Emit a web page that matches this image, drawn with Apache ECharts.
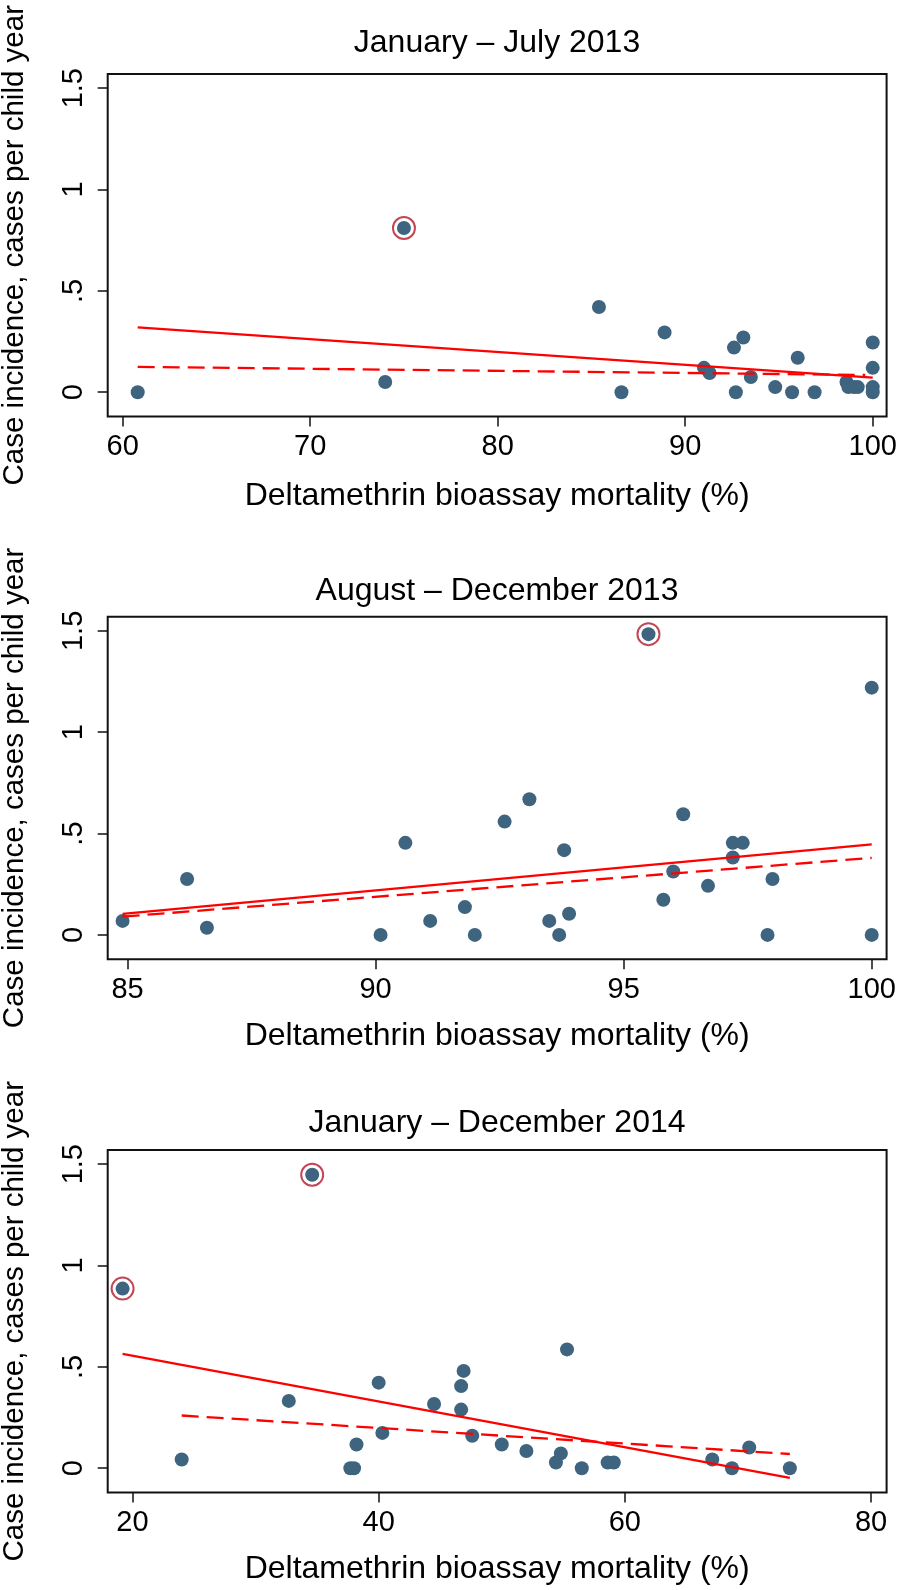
<!DOCTYPE html>
<html>
<head>
<meta charset="utf-8">
<script src="https://cdn.jsdelivr.net/npm/echarts@6/dist/echarts.min.js"></script>
<style>
  html, body { margin: 0; padding: 0; background: #fff; }
  #chart { width: 898px; height: 1590px; }
</style>
</head>
<body>
<div id="chart"></div>
<script>
// ---------- data ----------
const titles = ['January – July 2013', 'August – December 2013', 'January – December 2014'];
const xAxisTitle = 'Deltamethrin bioassay mortality (%)';
const yAxisTitle = 'Case incidence, cases per child year';

const yTickValues = [0, 0.5, 1, 1.5];
const yTickLabels = ['0', '.5', '1', '1.5'];

// Panel 1: January – July 2013
const p1XTicks = [60, 70, 80, 90, 100];
const p1X = [60.8, 74.0, 75.0, 85.4, 86.6, 88.9, 91.0, 91.3, 92.6, 92.7, 93.1, 93.5, 94.8, 95.7, 96.0, 96.9, 98.6, 98.7, 99.0, 99.2, 100, 100, 100, 100];
const p1Y = [0, 0.05, 0.81, 0.42, 0, 0.295, 0.12, 0.095, 0.22, 0, 0.27, 0.075, 0.025, 0, 0.17, 0, 0.05, 0.025, 0.025, 0.025, 0.245, 0.12, 0.025, 0];
const p1OutX = [75.0];
const p1OutY = [0.81];
const p1FitAllX = [60.8, 100];
const p1FitAllY = [0.32, 0.072];
const p1FitExclX = [60.8, 99.6];
const p1FitExclY = [0.125, 0.085];

// Panel 2: August – December 2013
const p2XTicks = [85, 90, 95, 100];
const p2X = [84.9, 86.2, 86.6, 90.1, 90.6, 91.1, 91.8, 92.0, 92.6, 93.1, 93.5, 93.7, 93.8, 93.9, 95.5, 95.8, 96.0, 96.2, 96.7, 97.2, 97.2, 97.4, 97.9, 98.0, 100, 100];
const p2Y = [0.069, 0.276, 0.035, 0, 0.454, 0.069, 0.137, 0, 0.559, 0.669, 0.069, 0, 0.418, 0.104, 1.484, 0.173, 0.3125, 0.595, 0.242, 0.454, 0.382, 0.454, 0, 0.276, 1.22, 0];
const p2OutX = [95.5];
const p2OutY = [1.484];
const p2FitAllX = [84.9, 100];
const p2FitAllY = [0.104, 0.447];
const p2FitExclX = [84.9, 100];
const p2FitExclY = [0.09, 0.38];

// Panel 3: January – December 2014
const p3XTicks = [20, 40, 60, 80];
const p3X = [19.2, 24.0, 32.7, 34.6, 37.7, 38.0, 38.2, 40.0, 40.3, 44.5, 46.7, 46.7, 46.9, 47.6, 50.0, 52.0, 54.4, 54.8, 55.3, 56.5, 58.6, 59.1, 67.1, 68.7, 70.1, 73.4];
const p3Y = [0.886, 0.043, 0.332, 1.448, 0, 0, 0.117, 0.422, 0.174, 0.317, 0.405, 0.289, 0.48, 0.16, 0.117, 0.085, 0.028, 0.073, 0.586, 0, 0.028, 0.028, 0.043, 0, 0.102, 0];
const p3OutX = [19.2, 34.6];
const p3OutY = [0.886, 1.448];
const p3FitAllX = [19.2, 73.4];
const p3FitAllY = [0.564, -0.048];
const p3FitExclX = [24.0, 73.4];
const p3FitExclY = [0.26, 0.07];

// ---------- layout / style ----------
const FONT = "'Liberation Sans', Arial, Helvetica, sans-serif";
const DOT = '#3f6480';
const RING = '#b3182b';
const FIT = '#ff0000';

const panels = [
  { xTicks: p1XTicks, xMin: 59.2, xMax: 100.74, X: p1X, Y: p1Y, oX: p1OutX, oY: p1OutY,
    fAX: p1FitAllX, fAY: p1FitAllY, fEX: p1FitExclX, fEY: p1FitExclY,
    top: 74, titleTop: 27, nameGap: 64 },
  { xTicks: p2XTicks, xMin: 84.6, xMax: 100.3, X: p2X, Y: p2Y, oX: p2OutX, oY: p2OutY,
    fAX: p2FitAllX, fAY: p2FitAllY, fEX: p2FitExclX, fEY: p2FitExclY,
    top: 616.7, titleTop: 575, nameGap: 61 },
  { xTicks: p3XTicks, xMin: 17.99, xMax: 81.26, X: p3X, Y: p3Y, oX: p3OutX, oY: p3OutY,
    fAX: p3FitAllX, fAY: p3FitAllY, fEX: p3FitExclX, fEY: p3FitExclY,
    top: 1150, titleTop: 1107, nameGap: 61 }
];

const zip = (a, b) => a.map((v, i) => [v, b[i]]);

const option = {
  backgroundColor: '#fff',
  animation: false,
  title: [],
  grid: [],
  xAxis: [],
  yAxis: [],
  series: []
};

panels.forEach((p, i) => {
  option.title.push({
    text: titles[i], left: 497, top: p.titleTop, textAlign: 'center', padding: 0,
    textStyle: { fontFamily: FONT, fontSize: 32, fontWeight: 'normal', color: '#000', lineHeight: 32 }
  });
  option.grid.push({
    left: 107.7, right: 11.4, top: p.top, height: 342.5,
    containLabel: false, outerBoundsMode: 'none',
    show: true, borderColor: '#111', borderWidth: 2, backgroundColor: '#fff'
  });
  option.xAxis.push({
    type: 'value', gridIndex: i, min: p.xMin, max: p.xMax, position: 'bottom',
    name: xAxisTitle, nameLocation: 'middle', nameGap: p.nameGap,
    nameTextStyle: { fontFamily: FONT, fontSize: 32, color: '#000', lineHeight: 32 },
    axisLine: { show: false, onZero: false },
    splitLine: { show: false },
    axisTick: { show: true, inside: false, length: 10, customValues: p.xTicks, lineStyle: { color: '#111', width: 1.5 } },
    axisLabel: { show: true, margin: 16, customValues: p.xTicks, fontFamily: FONT, fontSize: 29, color: '#000',
      formatter: v => String(v) }
  });
  option.yAxis.push({
    type: 'value', gridIndex: i, min: -0.12, max: 1.57, position: 'left',
    name: yAxisTitle, nameLocation: 'middle', nameGap: 78, nameRotate: 90,
    nameTextStyle: { fontFamily: FONT, fontSize: 29.5, color: '#000', lineHeight: 30 },
    axisLine: { show: false, onZero: false },
    splitLine: { show: false },
    axisTick: { show: true, inside: false, length: 10, customValues: yTickValues, lineStyle: { color: '#111', width: 1.5 } },
    axisLabel: { show: true, rotate: 90, margin: 19, customValues: yTickValues, fontFamily: FONT, fontSize: 29, color: '#000',
      formatter: v => { const k = yTickValues.findIndex(t => Math.abs(t - v) < 1e-9); return k >= 0 ? yTickLabels[k] : ''; } }
  });
  option.series.push({
    type: 'scatter', xAxisIndex: i, yAxisIndex: i, data: zip(p.X, p.Y),
    symbol: 'circle', symbolSize: 14, itemStyle: { color: DOT, opacity: 1 }, z: 2
  });
  option.series.push({
    type: 'scatter', xAxisIndex: i, yAxisIndex: i, data: zip(p.oX, p.oY),
    symbol: 'circle', symbolSize: 22,
    itemStyle: { color: 'rgba(0,0,0,0)', borderColor: RING, borderWidth: 2 }, z: 3
  });
  option.series.push({
    type: 'line', xAxisIndex: i, yAxisIndex: i, data: zip(p.fAX, p.fAY),
    showSymbol: false, symbol: 'none', lineStyle: { color: FIT, width: 2.3, type: 'solid' }, z: 4
  });
  option.series.push({
    type: 'line', xAxisIndex: i, yAxisIndex: i, data: zip(p.fEX, p.fEY),
    showSymbol: false, symbol: 'none', lineStyle: { color: FIT, width: 2.3, type: [17, 8] }, z: 4
  });
});

const chart = echarts.init(document.getElementById('chart'), null, { renderer: 'canvas' });
chart.setOption(option);
</script>
</body>
</html>
